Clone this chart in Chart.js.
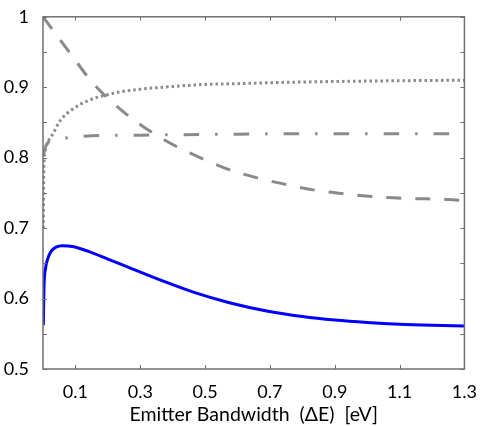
<!DOCTYPE html>
<html>
<head>
<meta charset="utf-8">
<script src="https://cdn.jsdelivr.net/npm/chart.js@4"></script>
<style>
  html, body { margin: 0; padding: 0; background: #fff; }
  #wrap { width: 481px; height: 426px; }
</style>
</head>
<body>
<div id="wrap"><canvas id="bwChart"></canvas></div>
<script>
// curves vs emitter bandwidth (eV)
const blueX = [0.001, 0.003, 0.008, 0.015, 0.025, 0.04, 0.06, 0.09, 0.14, 0.2, 0.266, 0.367, 0.471, 0.572, 0.694, 0.8, 0.9, 1.0, 1.1, 1.2, 1.3];
const blueY = [0.562, 0.615, 0.643, 0.657, 0.667, 0.673, 0.675, 0.674, 0.667, 0.656, 0.644, 0.6255, 0.608, 0.5945, 0.582, 0.5745, 0.5695, 0.566, 0.5635, 0.562, 0.561];

const dashX = [0, 0.089, 0.15, 0.22, 0.297, 0.379, 0.456, 0.557, 0.655, 0.749, 0.844, 0.945, 1.04, 1.138, 1.236, 1.3];
const dashY = [1.0, 0.945, 0.908, 0.876, 0.848, 0.824, 0.806, 0.786, 0.772, 0.762, 0.7535, 0.748, 0.744, 0.742, 0.741, 0.739];

const dotX = [0.001, 0.002, 0.004, 0.008, 0.015, 0.031, 0.052, 0.092, 0.144, 0.196, 0.245, 0.297, 0.398, 0.502, 0.593, 0.75, 0.878, 1.05, 1.3];
const dotY = [0.70, 0.77, 0.80, 0.812, 0.822, 0.834, 0.852, 0.869, 0.882, 0.889, 0.894, 0.897, 0.901, 0.904, 0.905, 0.907, 0.908, 0.909, 0.91];

const dashDotX = [0.001, 0.01, 0.03, 0.07, 0.15, 0.3, 0.5, 0.8, 1.3];
const dashDotY = [0.804, 0.818, 0.825, 0.828, 0.831, 0.832, 0.833, 0.834, 0.834];

const xTicks = [0.1, 0.3, 0.5, 0.7, 0.9, 1.1, 1.3];
const yTicks = [0.5, 0.55, 0.6, 0.65, 0.7, 0.75, 0.8, 0.85, 0.9, 0.95, 1.0];

const gray = "#8a8a8a";
const axisColor = "#707070";
const fontFamily = "Lato, 'Noto Sans', sans-serif";

function pts(xs, ys) {
  return xs.map((x, i) => ({ x: x, y: ys[i] }));
}

function line(xs, ys, color, dash) {
  return {
    data: pts(xs, ys),
    borderColor: color,
    borderWidth: 3,
    borderDash: dash,
    borderCapStyle: "butt",
    pointRadius: 0,
    cubicInterpolationMode: "monotone",
    fill: false
  };
}

// box frame with inward ticks on all four sides
const frameTicks = {
  id: "frameTicks",
  afterDraw(chart) {
    const { ctx, chartArea: a, scales } = chart;
    const len = 4;
    ctx.save();
    ctx.strokeStyle = axisColor;
    ctx.lineWidth = 1.5;
    ctx.strokeRect(a.left, a.top, a.right - a.left, a.bottom - a.top);
    ctx.lineWidth = 1;
    ctx.beginPath();
    xTicks.forEach(v => {
      const px = Math.round(scales.x.getPixelForValue(v)) + 0.5;
      ctx.moveTo(px, a.bottom); ctx.lineTo(px, a.bottom - len);
      ctx.moveTo(px, a.top); ctx.lineTo(px, a.top + len);
    });
    yTicks.forEach(v => {
      const py = Math.round(scales.y.getPixelForValue(v)) + 0.5;
      ctx.moveTo(a.left, py); ctx.lineTo(a.left + len, py);
      ctx.moveTo(a.right, py); ctx.lineTo(a.right - len, py);
    });
    ctx.stroke();
    ctx.restore();
  }
};

new Chart(document.getElementById("bwChart"), {
  type: "line",
  data: {
    datasets: [
      line(dashX, dashY, gray, [15, 14]),
      line(dotX, dotY, gray, [2.5, 3]),
      line(dashDotX, dashDotY, gray, [15.5, 16, 2.5, 16]),
      line(blueX, blueY, "#0000ff", [])
    ]
  },
  options: {
    responsive: true,
    maintainAspectRatio: false,
    animation: false,
    layout: { padding: { left: 0, right: 13, top: 14, bottom: 0 } },
    plugins: {
      legend: { display: false },
      tooltip: { enabled: false }
    },
    scales: {
      x: {
        type: "linear",
        min: 0,
        max: 1.3,
        afterBuildTicks: s => { s.ticks = xTicks.map(v => ({ value: v })); },
        afterFit: s => { s.height = 57; },
        grid: { display: false },
        border: { display: false },
        ticks: {
          color: "#000",
          padding: 4,
          maxRotation: 0,
          autoSkip: false,
          font: { family: fontFamily, size: 18 },
          callback: v => String(Math.round(v * 10) / 10)
        },
        title: {
          display: true,
          text: "Emitter Bandwidth  (\u0394E)  [eV]",
          color: "#000",
          padding: { top: 0, bottom: 0 },
          font: { family: fontFamily, size: 19.5 }
        }
      },
      y: {
        type: "linear",
        min: 0.5,
        max: 1,
        afterBuildTicks: s => { s.ticks = yTicks.map(v => ({ value: v })); },
        afterFit: s => { s.width = 43; },
        grid: { display: false },
        border: { display: false },
        ticks: {
          color: "#000",
          padding: 6,
          autoSkip: false,
          font: { family: fontFamily, size: 18 },
          callback: v => {
            const r = Math.round(v * 100);
            return r % 10 === 0 ? String(r / 100) : "";
          }
        }
      }
    }
  },
  plugins: [frameTicks]
});
</script>
</body>
</html>
